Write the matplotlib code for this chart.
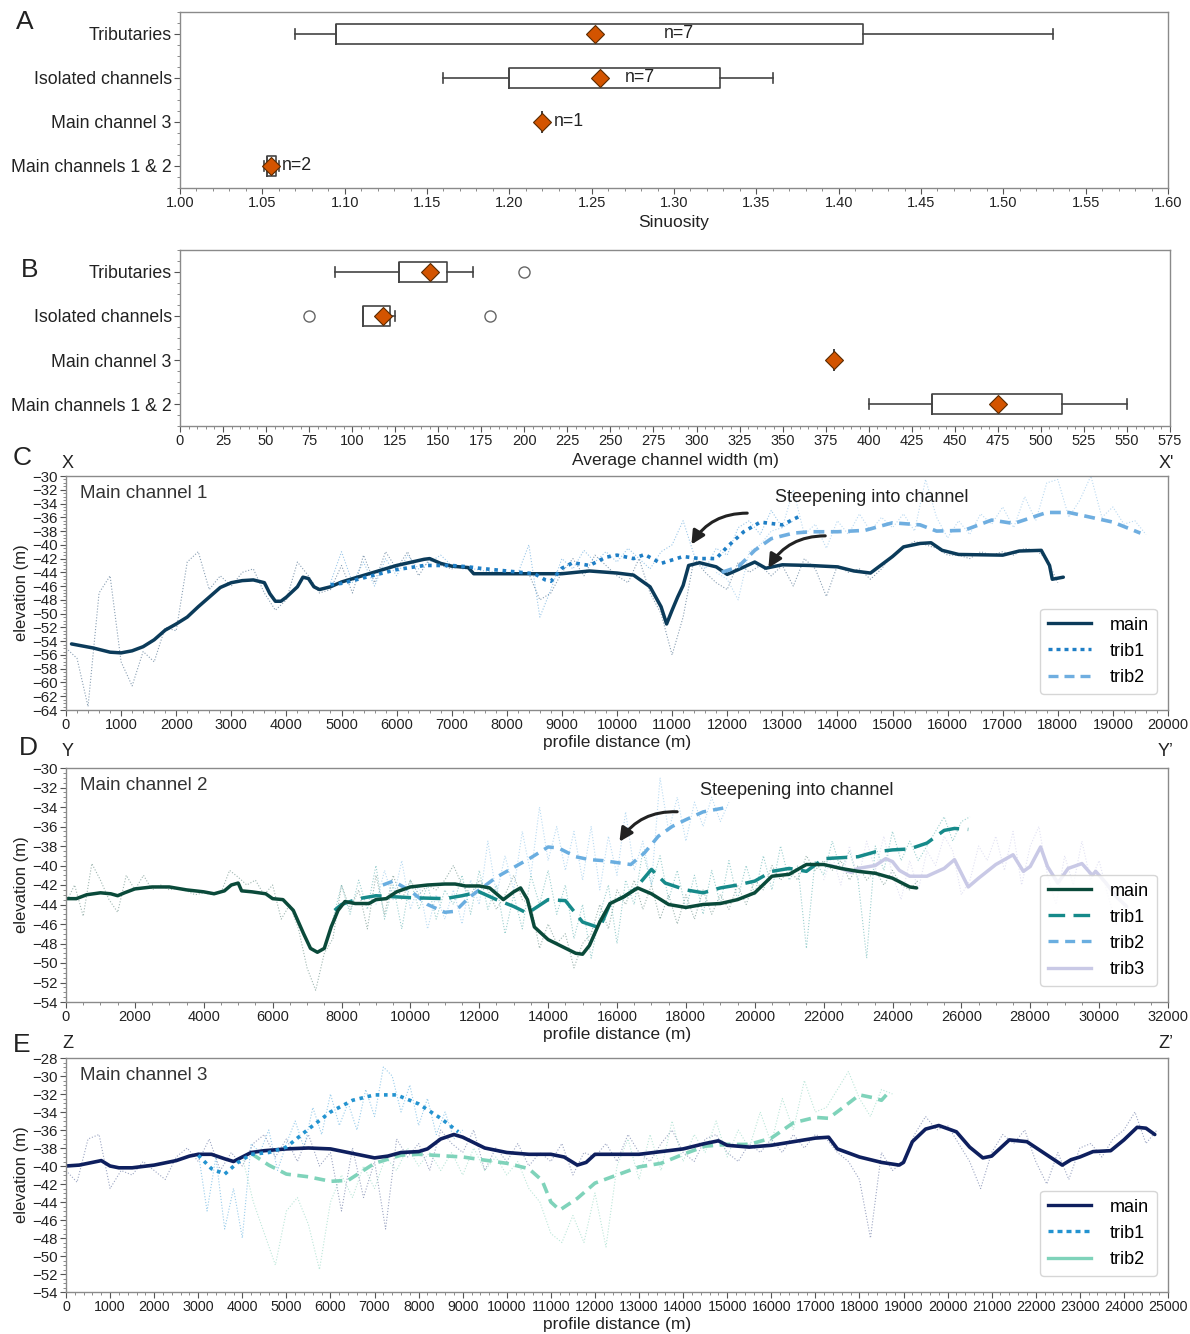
import numpy as np
import matplotlib
matplotlib.use("Agg")
import matplotlib.pyplot as plt
from matplotlib.ticker import AutoMinorLocator, MultipleLocator
from matplotlib.lines import Line2D

plt.rcParams['font.family'] = ['Liberation Sans', 'DejaVu Sans']

# ---------------- data: panel A (sinuosity) ----------------
groups = ["Tributaries", "Isolated channels", "Main channel 3", "Main channels 1 & 2"]
sin_whislo = [1.07, 1.16, 1.22, 1.051]
sin_q1 = [1.095, 1.20, 1.22, 1.053]
sin_med = [1.095, 1.20, 1.22, 1.053]
sin_q3 = [1.415, 1.328, 1.22, 1.058]
sin_whishi = [1.53, 1.36, 1.22, 1.060]
sin_mean = [1.252, 1.255, 1.22, 1.055]
sin_n = ["n=7", "n=7", "n=1", "n=2"]
sin_n_x = [1.303, 1.279, 1.236, 1.071]

# ---------------- data: panel B (width) ----------------
wid_whislo = [90, 106, 380, 400]
wid_q1 = [127, 106, 380, 437]
wid_med = [127, 106, 380, 437]
wid_q3 = [155, 122, 380, 512]
wid_whishi = [170, 125, 380, 550]
wid_mean = [145, 118, 380, 475]
wid_fliers = [[200], [75, 180], [], []]

# ---------------- data: panel C (main channel 1) ----------------
c_main_x = [100, 500, 800, 1000, 1200, 1400, 1600, 1800, 2000, 2200, 2400, 2600, 2800, 3000, 3200, 3400,
            3600, 3700, 3800, 3900, 4000, 4200, 4300, 4400, 4500, 4600, 4800, 5000, 5500, 6000, 6500, 6600,
            6800, 7000, 7300, 7400, 8000, 9000, 9500, 10000, 10300, 10600, 10800, 10900, 11000, 11100, 11200,
            11300, 11500, 11800, 12000, 12200, 12500, 12700, 13000, 13500, 14000, 14300, 14600, 15000, 15200,
            15500, 15700, 15900, 16200, 17000, 17300, 17700, 17850, 17900, 18100]
c_main_y = [-54.4, -55.0, -55.6, -55.7, -55.4, -54.8, -53.8, -52.4, -51.5, -50.5, -49.0, -47.6, -46.2, -45.5,
            -45.2, -45.1, -45.5, -47.1, -48.2, -48.2, -47.6, -46.1, -44.7, -44.9, -46.1, -46.5, -46.1, -45.4,
            -44.2, -43.0, -42.1, -42.0, -42.7, -43.1, -43.3, -44.2, -44.2, -44.2, -43.8, -44.1, -44.4, -46.1,
            -49.0, -51.5, -49.5, -47.6, -45.9, -43.0, -42.6, -43.2, -44.3, -43.6, -42.5, -43.4, -42.9, -43.0,
            -43.2, -43.8, -44.1, -41.7, -40.3, -39.8, -39.7, -40.8, -41.4, -41.5, -40.9, -40.8, -43.0, -45.0,
            -44.7]
c_trib1_x = [4800, 5000, 5500, 6000, 6500, 7000, 7300, 7500, 8000, 8500, 8700, 8800, 9000, 9200, 9500, 9800,
             10000, 10300, 10500, 10800, 11200, 11500, 11800, 12000, 12300, 12600, 13000, 13300]
c_trib1_y = [-45.8, -45.6, -44.6, -43.6, -43.0, -43.0, -43.2, -43.4, -43.8, -44.2, -45.1, -45.3, -43.4, -42.6,
             -43.0, -41.8, -41.5, -42.0, -41.4, -42.7, -41.7, -42.0, -42.0, -40.3, -38.1, -36.7, -37.1, -35.9]
c_trib2_x = [11900, 12200, 12500, 12800, 13200, 13500, 14000, 14500, 15000, 15500, 15800, 16300, 16800, 17200,
             17800, 18200, 19000, 19500]
c_trib2_y = [-44.0, -43.2, -40.8, -39.1, -38.3, -38.1, -38.1, -37.9, -36.8, -37.1, -38.0, -37.9, -36.4, -36.9,
             -35.3, -35.3, -36.7, -38.3]
c_raw_main_start, c_raw_main_step = 0, 200
c_raw_main = [-55.0, -56.5, -63.5, -47.0, -44.5, -57.0, -60.5, -55.5, -57.0, -52.0, -52.5, -42.5, -41.0, -46.5,
              -44.5, -46.0, -44.0, -43.5, -47.0, -49.5, -48.0, -42.5, -44.5, -47.0, -46.5, -43.0, -47.0, -41.5,
              -45.5, -41.0, -43.5, -41.0, -44.5, -42.0, -43.0, -43.5, -43.0, -44.0, -44.3, -44.2, -44.2, -44.3,
              -44.2, -48.0, -47.0, -44.0, -42.0, -44.5, -41.5, -43.0, -44.5, -45.5, -42.0, -47.0, -50.0, -56.0,
              -50.5, -42.0, -44.0, -45.5, -46.5, -42.5, -44.0, -43.0, -44.5, -43.0, -46.0, -42.0, -43.5, -47.5,
              -43.0, -44.0, -43.5, -45.0, -43.5, -41.5, -40.5, -39.5, -40.0, -40.5, -41.5, -41.5, -42.0, -41.0,
              -41.5, -41.0, -41.5, -40.5, -40.8, -42.0, -45.5]
c_raw_trib1_start, c_raw_trib1_step = 4800, 200
c_raw_trib1 = [-45.5, -41.0, -45.5, -42.5, -46.0, -42.0, -44.5, -41.5, -43.5, -42.5, -41.5, -43.0, -43.5, -43.5,
               -43.8, -44.0, -44.0, -44.2, -40.0, -50.5, -46.5, -42.0, -43.5, -40.8, -42.5, -41.0, -42.5, -40.5,
               -42.0, -43.5, -41.0, -40.0, -36.5, -41.5, -43.5, -40.5, -41.5, -37.5, -36.5, -38.5, -35.0, -37.5,
               -36.5]
c_raw_trib2_start, c_raw_trib2_step = 11800, 200
c_raw_trib2 = [-44.0, -45.0, -48.0, -41.0, -40.0, -38.0, -37.5, -32.0, -38.5, -37.0, -40.5, -36.5, -38.5, -35.5,
               -38.0, -36.0, -37.5, -35.5, -38.0, -30.5, -36.0, -39.0, -36.5, -38.5, -35.5, -37.0, -34.5, -37.5,
               -33.0, -36.5, -31.0, -30.5, -36.0, -33.5, -30.0, -36.0, -34.5, -37.0, -36.5, -38.5]

# ---------------- data: panel D (main channel 2) ----------------
d_main_x = [0, 300, 600, 1000, 1300, 1500, 1700, 2000, 2500, 3000, 3500, 4000, 4300, 4600, 4800, 5000, 5100,
            5400, 5800, 6000, 6300, 6600, 6900, 7100, 7300, 7500, 7700, 7900, 8100, 8400, 8800, 9000, 9300,
            9600, 10000, 10500, 11000, 11300, 11600, 12000, 12300, 12700, 13000, 13200, 13400, 13600, 14000,
            14400, 14800, 15000, 15200, 15500, 15800, 16200, 16600, 17000, 17500, 18000, 18500, 19000, 19500,
            20000, 20500, 21000, 21500, 22000, 22500, 23000, 23500, 24000, 24500, 24700]
d_main_y = [-43.4, -43.4, -43.0, -42.8, -42.9, -43.1, -42.8, -42.4, -42.2, -42.2, -42.5, -42.7, -42.9, -42.6,
            -42.0, -41.8, -42.6, -42.7, -42.9, -43.4, -43.5, -44.6, -47.0, -48.5, -48.9, -48.5, -46.3, -44.6,
            -43.7, -43.9, -43.9, -43.5, -43.4, -42.7, -42.2, -42.0, -41.9, -41.9, -42.1, -42.1, -42.3, -43.5,
            -42.7, -42.3, -43.5, -46.3, -47.6, -48.3, -49.0, -49.1, -48.2, -45.8, -43.9, -43.2, -42.3, -42.9,
            -44.0, -44.3, -44.0, -43.9, -43.5, -42.8, -41.1, -40.9, -39.9, -39.9, -40.3, -40.6, -40.8, -41.3,
            -42.2, -42.3]
d_trib1_x = [7800, 8000, 8500, 9000, 10000, 11000, 11500, 12000, 12500, 13000, 13400, 14000, 14500, 15000,
             15500, 15800, 16200, 16500, 17000, 17400, 18000, 18500, 19000, 19500, 20000, 20500, 21000, 21500,
             22000, 22500, 23000, 23500, 24000, 24500, 25000, 25500, 25800, 26200]
d_trib1_y = [-44.6, -44.0, -43.4, -43.1, -43.3, -43.4, -43.1, -42.7, -43.5, -44.2, -44.9, -43.5, -43.6, -45.8,
             -46.4, -43.9, -43.2, -42.5, -40.4, -41.8, -42.5, -42.8, -42.3, -42.0, -41.6, -40.6, -40.3, -40.6,
             -39.3, -39.2, -39.1, -38.6, -38.4, -38.3, -37.7, -36.4, -36.2, -36.3]
d_trib2_x = [9200, 9500, 10000, 10500, 11000, 11300, 11700, 12000, 12500, 13000, 13500, 14000, 14300, 14800,
             15200, 15600, 16000, 16400, 16800, 17200, 17600, 18000, 18500, 19100]
d_trib2_y = [-42.0, -41.6, -42.6, -44.0, -44.8, -44.7, -43.3, -42.5, -41.2, -40.2, -39.2, -38.1, -38.2, -39.1,
             -39.4, -39.5, -39.7, -39.9, -38.7, -37.0, -36.0, -35.3, -34.5, -34.1]
d_trib3_x = [22200, 22500, 22800, 23000, 23500, 23800, 24000, 24200, 24500, 25000, 25500, 25800, 26200, 26500,
             27000, 27500, 27800, 28000, 28300, 28500, 28800, 29100, 29500, 29800, 29900, 30200, 30500, 30800]
d_trib3_y = [-40.0, -40.3, -40.7, -40.3, -40.0, -39.3, -39.6, -40.5, -41.1, -41.1, -40.3, -39.4, -42.2, -41.3,
             -39.9, -38.9, -40.6, -40.1, -38.1, -40.1, -41.8, -40.3, -39.8, -41.0, -40.6, -41.8, -43.2, -44.2]
d_raw_main_start, d_raw_main_step = 0, 250
d_raw_main = [-43.8, -42.0, -45.2, -39.8, -41.5, -43.5, -44.8, -41.0, -42.5, -41.0, -42.5, -42.0, -42.5, -42.3,
              -42.6, -43.0, -42.8, -43.0, -42.8, -40.5, -41.2, -42.0, -41.5, -43.0, -42.0, -45.5, -44.0, -46.5,
              -50.5, -52.8, -49.0, -47.5, -42.0, -44.5, -42.5, -46.5, -41.0, -45.0, -41.0, -43.5, -41.5, -43.0,
              -42.0, -42.5, -41.5, -40.0, -42.0, -43.0, -41.5, -42.5, -44.5, -43.0, -41.0, -43.5, -44.0, -48.5,
              -46.0, -48.0, -47.0, -50.5, -48.0, -47.0, -44.0, -46.5, -42.5, -44.0, -41.5, -44.5, -42.0, -45.5,
              -43.0, -46.0, -43.0, -45.5, -42.5, -45.0, -43.0, -44.5, -42.0, -44.0, -41.5, -42.5, -40.0, -41.5,
              -40.5, -41.5, -39.0, -40.5, -39.5, -40.5, -39.5, -41.5, -40.0, -41.5, -40.5, -42.0, -40.5, -42.0,
              -42.5, -41.5]
d_raw_trib1_start, d_raw_trib1_step = 7750, 250
d_raw_trib1 = [-45.5, -42.0, -45.0, -41.5, -44.5, -40.0, -45.5, -42.0, -46.5, -41.5, -44.5, -42.0, -45.5, -42.5,
               -44.0, -41.0, -45.0, -40.5, -44.5, -42.0, -47.0, -43.0, -46.5, -41.0, -44.0, -40.5, -45.0, -42.0,
               -47.5, -44.0, -49.5, -45.0, -42.0, -48.0, -41.5, -44.0, -38.5, -42.0, -39.0, -43.5, -40.5, -44.5,
               -41.0, -45.0, -40.5, -44.0, -39.5, -43.5, -40.0, -43.0, -39.0, -42.5, -38.0, -41.5, -40.0, -48.5,
               -39.5, -41.0, -37.5, -40.5, -38.5, -41.5, -49.5, -38.0, -40.5, -36.5, -39.5, -37.5, -39.5, -38.0,
               -36.5, -35.0, -37.5, -35.5, -35.0]
d_raw_trib2_start, d_raw_trib2_step = 9000, 250
d_raw_trib2 = [-44.0, -40.5, -43.5, -39.5, -44.5, -42.0, -46.5, -43.0, -45.5, -42.5, -46.0, -41.5, -44.0, -37.5,
               -43.0, -39.0, -42.5, -36.5, -41.0, -34.0, -39.5, -36.0, -40.5, -36.5, -41.5, -36.0, -42.5, -37.0,
               -41.0, -34.5, -40.5, -37.5, -42.0, -31.0, -36.5, -33.0, -37.5, -33.5, -36.0, -33.0, -35.5, -33.5]
d_raw_trib3_start, d_raw_trib3_step = 22000, 250
d_raw_trib3 = [-41.5, -39.0, -42.0, -38.0, -41.5, -37.5, -40.5, -37.0, -41.0, -43.5, -39.5, -42.5, -38.5, -40.0,
               -37.0, -38.5, -43.0, -41.5, -38.0, -39.5, -37.0, -40.5, -36.5, -42.0, -38.0, -36.0, -41.0, -44.0,
               -39.0, -42.0, -37.5, -41.5, -39.5, -43.0, -46.0, -44.0, -45.5]

# ---------------- data: panel E (main channel 3) ----------------
e_main_x = [0, 300, 600, 800, 1000, 1200, 1500, 2000, 2500, 2800, 3000, 3300, 3600, 3800, 4000, 4200, 4500,
            5000, 5500, 6000, 6500, 7000, 7300, 7600, 8000, 8200, 8500, 8800, 9000, 9500, 10000, 10500, 11000,
            11300, 11600, 11800, 12000, 12500, 13000, 13500, 14000, 14500, 14800, 15000, 15500, 16000, 16500,
            17000, 17300, 17500, 18000, 18500, 18900, 19000, 19200, 19500, 19800, 20200, 20500, 20800, 21000,
            21400, 21800, 22200, 22600, 22800, 23000, 23300, 23700, 24000, 24300, 24500, 24700]
e_main_y = [-40.0, -39.9, -39.6, -39.4, -40.0, -40.2, -40.2, -39.9, -39.4, -38.9, -38.7, -38.7, -39.2, -39.5,
            -39.0, -38.5, -38.3, -38.1, -38.0, -38.1, -38.6, -39.1, -38.9, -38.5, -38.4, -38.1, -37.0, -36.5,
            -36.8, -38.0, -38.5, -38.7, -38.7, -39.0, -39.9, -39.6, -38.7, -38.7, -38.7, -38.4, -38.1, -37.5,
            -37.2, -37.7, -37.9, -37.7, -37.3, -36.9, -36.8, -38.1, -39.0, -39.6, -39.9, -39.6, -37.3, -35.9,
            -35.5, -36.2, -37.9, -39.1, -38.9, -37.1, -37.3, -38.6, -39.9, -39.3, -39.0, -38.4, -38.3, -37.1,
            -35.7, -35.8, -36.5]
e_trib1_x = [3000, 3300, 3600, 3900, 4200, 4600, 5000, 5500, 6000, 6500, 7000, 7500, 8000, 8500, 8900]
e_trib1_y = [-38.8, -40.3, -40.9, -39.6, -38.7, -38.5, -37.9, -35.9, -34.0, -32.7, -32.1, -32.1, -33.1, -34.7,
             -36.2]
e_trib2_x = [4200, 4600, 5000, 5500, 6000, 6400, 7000, 7600, 8000, 9000, 10000, 10500, 10800, 11000, 11200,
             11600, 12000, 12500, 13000, 13500, 14000, 14500, 15000, 15500, 16000, 16500, 17000, 17300, 17600,
             18000, 18300, 18500, 18700]
e_trib2_y = [-38.6, -39.9, -40.9, -41.2, -41.7, -41.6, -39.7, -38.8, -38.7, -39.0, -39.7, -40.3, -41.6, -44.0,
             -44.9, -43.6, -41.9, -41.0, -40.1, -39.7, -38.7, -37.8, -37.6, -37.6, -36.9, -35.2, -34.6, -34.7,
             -33.6, -32.1, -32.4, -32.7, -31.6]
e_raw_main_start, e_raw_main_step = 0, 250
e_raw_main = [-40.5, -41.8, -37.0, -36.5, -42.5, -40.5, -41.0, -39.5, -40.5, -41.5, -39.0, -38.0, -39.5, -37.0,
              -40.5, -38.5, -40.0, -37.5, -36.5, -39.0, -37.0, -39.5, -36.5, -40.0, -38.5, -45.0, -38.0, -43.5,
              -39.5, -47.0, -37.0, -39.0, -37.5, -40.5, -36.0, -37.5, -38.5, -36.0, -40.5, -38.0, -39.5, -37.5,
              -40.0, -38.5, -39.5, -37.5, -41.0, -38.5, -39.0, -37.5, -39.5, -36.5, -38.5, -39.5, -37.5, -36.0,
              -38.5, -39.5, -37.0, -36.5, -38.5, -39.5, -37.5, -38.5, -37.0, -38.5, -36.5, -38.0, -36.5, -37.0,
              -38.5, -39.5, -41.5, -48.0, -38.5, -40.5, -39.5, -36.5, -34.5, -36.0, -35.5, -37.5, -39.5, -42.5,
              -38.5, -36.5, -37.5, -36.0, -39.5, -42.0, -38.5, -41.5, -38.0, -37.5, -39.0, -37.0, -36.0, -34.0,
              -37.5, -36.0]
e_raw_trib1_start, e_raw_trib1_step = 3000, 200
e_raw_trib1 = [-38.5, -45.0, -39.0, -47.0, -42.5, -48.0, -37.5, -38.5, -36.0, -40.5, -37.5, -35.0, -38.0, -33.5,
               -36.5, -32.0, -35.5, -33.0, -36.0, -31.5, -34.5, -29.0, -30.0, -34.0, -31.0, -35.5, -32.5, -36.5,
               -34.0, -37.0, -36.0]
e_raw_trib2_start, e_raw_trib2_step = 4000, 250
e_raw_trib2 = [-39.0, -44.0, -47.5, -51.0, -45.0, -43.5, -46.5, -51.5, -44.0, -41.0, -43.5, -40.0, -42.5, -39.0,
               -40.5, -38.0, -40.0, -38.5, -40.5, -38.5, -41.0, -38.0, -40.5, -39.0, -41.0, -39.5, -42.5, -44.0,
               -47.5, -48.5, -45.5, -48.5, -43.0, -49.0, -40.0, -37.0, -41.5, -36.5, -40.5, -35.0, -39.5, -36.5,
               -38.5, -35.0, -39.0, -36.0, -38.0, -34.0, -37.5, -32.5, -36.0, -30.5, -34.0, -33.5, -31.5, -29.5,
               -32.5, -34.5, -31.5, -32.0]

# ---------------- figure ----------------
W, H = 1190, 1334
fig = plt.figure(figsize=(W / 100, H / 100), dpi=100)


def ax_at(l, t, r, b):
    return fig.add_axes([l / W, 1 - b / H, (r - l) / W, (b - t) / H])


SPINE = '#8a8a8a'
TXT = '#222222'
ORANGE = '#d35400'


def style_axes(ax, xfs=10.5, yfs=10.5):
    for s in ax.spines.values():
        s.set_color(SPINE)
        s.set_linewidth(1.0)
    ax.tick_params(axis='both', which='major', length=4, width=0.8, color='#555555',
                   labelcolor=TXT, pad=2)
    ax.tick_params(axis='x', which='major', labelsize=xfs)
    ax.tick_params(axis='y', which='major', labelsize=yfs)
    ax.tick_params(axis='both', which='minor', length=2, width=0.6, color='#777777')


def box_panel(ax, whislo, q1, med, q3, whishi, mean, fliers):
    stats = []
    for i in range(len(groups)):
        stats.append(dict(whislo=whislo[i], q1=q1[i], med=med[i], q3=q3[i], whishi=whishi[i],
                          mean=mean[i], fliers=fliers[i] if fliers else []))
    positions = [3, 2, 1, 0]
    ax.bxp(stats, positions=positions, widths=0.45, orientation='horizontal', showmeans=True,
           boxprops=dict(color='#444444', linewidth=1.2),
           whiskerprops=dict(color='#444444', linewidth=1.2),
           capprops=dict(color='#444444', linewidth=1.2),
           medianprops=dict(color='#444444', linewidth=1.2),
           meanprops=dict(marker='D', markerfacecolor=ORANGE, markeredgecolor='#5a2a00',
                          markersize=9, markeredgewidth=0.8),
           flierprops=dict(marker='o', markerfacecolor='white', markeredgecolor='#666666', markersize=8,
                           markeredgewidth=1.0))
    ax.set_ylim(-0.5, 3.5)
    ax.set_yticks(positions)
    ax.set_yticklabels(groups)
    ax.yaxis.set_minor_locator(AutoMinorLocator(4))
    style_axes(ax, 10.5, 12.8)


# ---- Panel A ----
axA = ax_at(180, 12, 1168, 188)
box_panel(axA, sin_whislo, sin_q1, sin_med, sin_q3, sin_whishi, sin_mean, None)
axA.set_xlim(1.0, 1.6)
axA.xaxis.set_major_locator(MultipleLocator(0.05))
axA.xaxis.set_minor_locator(AutoMinorLocator(5))
axA.set_xticklabels([f"{v:.2f}" for v in axA.get_xticks()])
axA.set_xlabel("Sinuosity", fontsize=12.5, color=TXT, labelpad=3)
for i, (t, xx) in enumerate(zip(sin_n, sin_n_x)):
    axA.text(xx, 3 - i, t, fontsize=12.8, color=TXT, ha='center', va='center')

# ---- Panel B ----
axB = ax_at(180, 250, 1170, 426)
box_panel(axB, wid_whislo, wid_q1, wid_med, wid_q3, wid_whishi, wid_mean, wid_fliers)
axB.set_xlim(0, 575)
axB.xaxis.set_major_locator(MultipleLocator(25))
axB.xaxis.set_minor_locator(AutoMinorLocator(5))
axB.set_xlabel("Average channel width (m)", fontsize=12.5, color=TXT, labelpad=3)

# ---- Profile panels ----


def profile_axes(box, xmax, xstep, ymin, ymax, title, tick_fs=10.5):
    ax = ax_at(*box)
    ax.set_xlim(0, xmax)
    ax.set_ylim(ymin, ymax)
    ax.xaxis.set_major_locator(MultipleLocator(xstep))
    ax.xaxis.set_minor_locator(AutoMinorLocator(5 if xstep == 1000 else 4))
    ax.yaxis.set_major_locator(MultipleLocator(2))
    ax.yaxis.set_minor_locator(AutoMinorLocator(4))
    style_axes(ax, tick_fs, 10.8)
    ax.set_xlabel("profile distance (m)", fontsize=12.5, color=TXT, labelpad=2)
    ax.set_ylabel("elevation (m)", fontsize=12, color=TXT, labelpad=2)
    ax.text(0.013, 0.925, title, transform=ax.transAxes, fontsize=13.5, color='#333333', ha='left', va='center')
    return ax


def raw(ax, start, step, vals, color, alpha=0.7, lw=0.8):
    xs = start + step * np.arange(len(vals))
    ax.plot(xs, vals, color=color, lw=lw, ls=':', alpha=alpha)


LW = 2.5
line_kw = dict(solid_joinstyle='round', solid_capstyle='round', dash_joinstyle='round')

# Panel C
C_MAIN, C_T1, C_T2 = '#0b3b5a', '#1f7fc6', '#6faee0'
axC = profile_axes((66, 476, 1168, 710), 20000, 1000, -64, -30, "Main channel 1")
raw(axC, c_raw_main_start, c_raw_main_step, c_raw_main, '#3a5f80', 0.6)
raw(axC, c_raw_trib1_start, c_raw_trib1_step, c_raw_trib1, '#4a9ad6', 0.55)
raw(axC, c_raw_trib2_start, c_raw_trib2_step, c_raw_trib2, '#8cc0e8', 0.6)
axC.plot(c_main_x, c_main_y, color=C_MAIN, lw=LW, **line_kw)
axC.plot(c_trib1_x, c_trib1_y, color=C_T1, lw=2.6, ls=(0, (1, 1.3)), **line_kw)
axC.plot(c_trib2_x, c_trib2_y, color=C_T2, lw=2.6, ls=(0, (3, 1.8)), **line_kw)
axC.set_yticks(np.arange(-64, -29, 2))
leg_kw = dict(loc='lower right', fontsize=13, frameon=True, edgecolor='#cccccc', handlelength=2.4,
              borderpad=0.45, labelspacing=0.5, handletextpad=1.0, bbox_to_anchor=(0.998, 0.03))
hC = [Line2D([], [], color=C_MAIN, lw=2.4), Line2D([], [], color=C_T1, lw=2.4, ls=(0, (1.2, 1.2))),
      Line2D([], [], color=C_T2, lw=2.4, ls=(0, (3, 1.8)))]
axC.legend(hC, ["main", "trib1", "trib2"], **leg_kw)
axC.text(12868, -33.1, "Steepening into channel", fontsize=13, color='#222222', ha='left', va='center')
arrow_kw = dict(arrowstyle='-|>,head_length=0.8,head_width=0.4', color='#222222', lw=2.2,
                connectionstyle='arc3,rad=0.3')
axC.annotate("", xy=(11325, -40.3), xytext=(12414, -35.4), arrowprops=arrow_kw)
axC.annotate("", xy=(12722, -43.7), xytext=(13830, -38.7), arrowprops=arrow_kw)

# Panel D
D_MAIN, D_T1, D_T2, D_T3 = '#0a4a3a', '#168a8a', '#6aaee0', '#c9c9e6'
axD = profile_axes((66, 768, 1168, 1002), 32000, 2000, -54, -30, "Main channel 2")
raw(axD, d_raw_main_start, d_raw_main_step, d_raw_main, '#4f7a70', 0.55)
raw(axD, d_raw_trib1_start, d_raw_trib1_step, d_raw_trib1, '#4aa8a8', 0.55)
raw(axD, d_raw_trib2_start, d_raw_trib2_step, d_raw_trib2, '#8cc4ea', 0.6)
raw(axD, d_raw_trib3_start, d_raw_trib3_step, d_raw_trib3, '#d5d5ee', 0.7)
axD.plot(d_trib3_x, d_trib3_y, color=D_T3, lw=LW, **line_kw)
axD.plot(d_trib2_x, d_trib2_y, color=D_T2, lw=LW, ls=(0, (3, 2)), **line_kw)
axD.plot(d_trib1_x, d_trib1_y, color=D_T1, lw=LW, ls=(0, (6, 2.5)), **line_kw)
axD.plot(d_main_x, d_main_y, color=D_MAIN, lw=LW, **line_kw)
hD = [Line2D([], [], color=D_MAIN, lw=2.4), Line2D([], [], color=D_T1, lw=2.4, ls=(0, (5, 2.5))),
      Line2D([], [], color=D_T2, lw=2.4, ls=(0, (3, 2))), Line2D([], [], color=D_T3, lw=2.4)]
axD.legend(hD, ["main", "trib1", "trib2", "trib3"], **leg_kw)
axD.text(18409, -32.3, "Steepening into channel", fontsize=13, color='#222222', ha='left', va='center')
axD.annotate("", xy=(16028, -37.8), xytext=(17828, -34.5), arrowprops=arrow_kw)

# Panel E
E_MAIN, E_T1, E_T2 = '#0e1f5e', '#2393d0', '#7fd3ba'
axE = profile_axes((66, 1058, 1168, 1292), 25000, 1000, -54, -28, "Main channel 3", tick_fs=10.3)
raw(axE, e_raw_main_start, e_raw_main_step, e_raw_main, '#5a6a9a', 0.6)
raw(axE, e_raw_trib1_start, e_raw_trib1_step, e_raw_trib1, '#55aadd', 0.6)
raw(axE, e_raw_trib2_start, e_raw_trib2_step, e_raw_trib2, '#9fdcc9', 0.7)
axE.plot(e_trib2_x, e_trib2_y, color=E_T2, lw=2.6, ls=(0, (3, 1.8)), **line_kw)
axE.plot(e_main_x, e_main_y, color=E_MAIN, lw=2.6, **line_kw)
axE.plot(e_trib1_x, e_trib1_y, color=E_T1, lw=2.6, ls=(0, (1, 1.3)), **line_kw)
hE = [Line2D([], [], color=E_MAIN, lw=2.4), Line2D([], [], color=E_T1, lw=2.4, ls=(0, (1.5, 1.2))),
      Line2D([], [], color=E_T2, lw=2.4)]
axE.legend(hE, ["main", "trib1", "trib2"], **leg_kw)

# ---- panel letters and profile end labels ----
letters = [("A", 25, 22), ("B", 30, 270), ("C", 22, 458), ("D", 28, 748), ("E", 22, 1045)]
for t, px, py in letters:
    fig.text(px / W, 1 - py / H, t, fontsize=19, color='#222222', ha='center', va='center')
ends = [("X", "X'", 464), ("Y", "Y\u2019", 752), ("Z", "Z\u2019", 1044)]
for a, b, py in ends:
    fig.text(68 / W, 1 - py / H, a, fontsize=13, color='#222222', ha='center', va='center')
    fig.text(1166 / W, 1 - py / H, b, fontsize=13, color='#222222', ha='center', va='center')

fig.savefig("out.png", dpi=100, facecolor='white')
